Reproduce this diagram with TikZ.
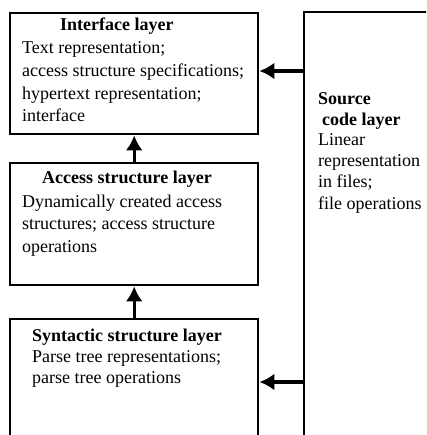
\documentclass[tikz,border=0pt]{standalone}
\usepackage{fontspec}
\setmainfont{Liberation Serif}
\usetikzlibrary{arrows.meta}
\begin{document}
\begin{tikzpicture}[x=1pt,y=1pt,
  layerbox/.style={draw=black,line width=2.4pt,rectangle,inner sep=0pt,anchor=north west},
  heading/.style={anchor=base west,inner sep=0pt,font=\fontsize{18}{22}\selectfont\bfseries},
  body/.style={anchor=base west,inner sep=0pt,align=left,font=\fontsize{18}{#1}\selectfont},
  body/.default=22.5,
  flow/.style={line width=3.4pt,-{Latex[length=15pt,width=17pt]}}
]
% page area (y runs downwards as negative values)
\useasboundingbox (0,0) rectangle (426,-435);
\clip (0,0) rectangle (426,-435);
\fill[white] (0,0) rectangle (426,-435);

% layer boxes
\node[layerbox,minimum width=248pt,minimum height=121pt] (iface) at (9,-12) {};
\node[layerbox,minimum width=248pt,minimum height=122pt] (access) at (9,-162) {};
\node[layerbox,minimum width=248pt,minimum height=128pt] (syntax) at (9,-318) {};
\node[layerbox,minimum width=160pt,minimum height=480pt] (source) at (303,-11) {};

% interface layer (body node is placed by the baseline of its last line)
\node[heading] (ifaceT) at (60,-31) {Interface layer};
\node[body=22.7] (ifaceB) at (22,-122) {Text representation;\\access structure specifications;\\hypertext representation;\\interface};

% access structure layer
\node[heading] (accessT) at (42,-184) {Access structure layer};
\node[body] (accessB) at (22,-252) {Dynamically created access\\structures; access structure\\operations};

% syntactic structure layer
\node[heading] (syntaxT) at (32,-341) {Syntactic structure layer};
\node[body=21] (syntaxB) at (32,-383) {Parse tree representations;\\parse tree operations};

% source code layer
\node[heading] (sourceT1) at (318,-105) {Source};
\node[heading] (sourceT2) at (322,-126) {code layer};
\node[body=21] (sourceB) at (318,-209) {Linear\\representation\\in files;\\file operations};

% connectors
\draw[flow] (access.north) -- (iface.south);
\draw[flow] (syntax.north) -- (access.south);
\draw[flow] (source.west |- 0,-71) -- (iface.east |- 0,-71);
\draw[flow] (source.west |- 0,-382) -- (syntax.east |- 0,-382);
\end{tikzpicture}
\end{document}
